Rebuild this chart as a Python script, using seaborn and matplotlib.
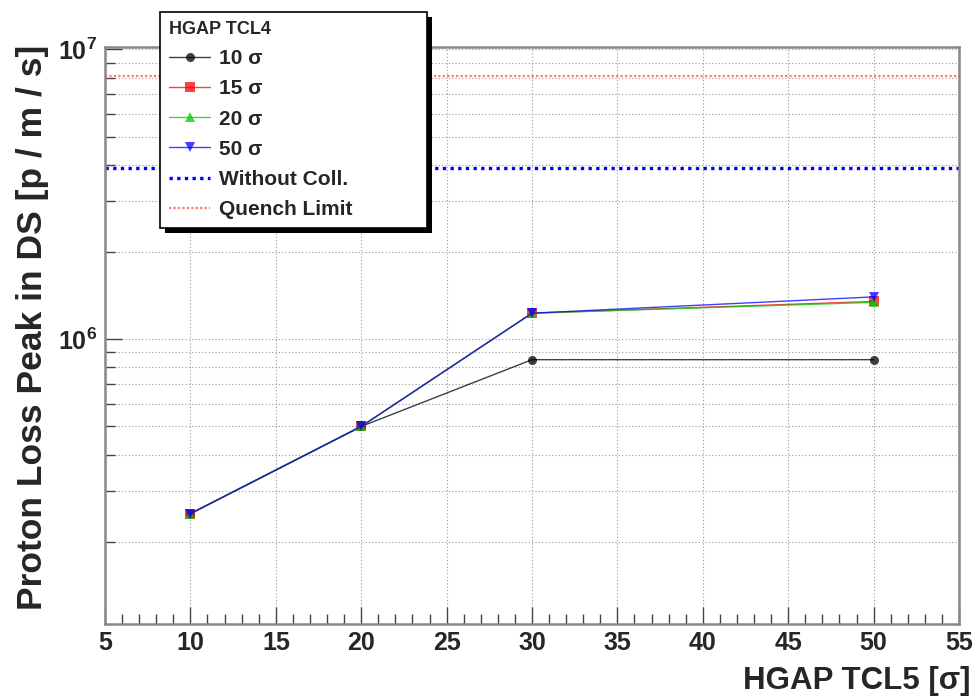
import numpy as np
import pandas as pd
import matplotlib
matplotlib.use("Agg")
import matplotlib.pyplot as plt
import seaborn as sns
from matplotlib.ticker import FixedLocator, FixedFormatter, MultipleLocator, NullFormatter
from matplotlib.lines import Line2D
from matplotlib.patches import Rectangle

# ---- data ----
tcl5 = [10, 20, 30, 50]
loss_10 = [2.5e5, 5.0e5, 8.5e5, 8.5e5]
loss_15 = [2.5e5, 5.0e5, 1.23e6, 1.35e6]
loss_20 = [2.5e5, 5.0e5, 1.23e6, 1.34e6]
loss_50 = [2.5e5, 5.0e5, 1.23e6, 1.40e6]
series_labels = ["10 σ", "15 σ", "20 σ", "50 σ"]
without_coll = 3.9e6
quench_limit = 8.1e6
x_ticks = [5, 10, 15, 20, 25, 30, 35, 40, 45, 50, 55]
y_tick_vals = [1e6, 1e7]
y_tick_labels = [r"$\mathbf{10^{6}}$", r"$\mathbf{10^{7}}$"]

df = pd.DataFrame({
    "tcl5": tcl5 * 4,
    "loss": loss_10 + loss_15 + loss_20 + loss_50,
    "tcl4": sum([[lab] * len(tcl5) for lab in series_labels], []),
})

sns.set_theme(style="white")
plt.rcParams["font.family"] = ["Liberation Sans", "DejaVu Sans"]
plt.rcParams["font.weight"] = "bold"
plt.rcParams["mathtext.fontset"] = "custom"
plt.rcParams["mathtext.bf"] = "Liberation Sans:bold"
plt.rcParams["mathtext.rm"] = "Liberation Sans:bold"

fig = plt.figure(figsize=(9.76, 6.96), dpi=100)
ax = fig.add_axes([0.1076, 0.1034, 0.8750, 0.8291])

colors = ["#000000", "#ff0000", "#00cc00", "#0000ff"]
markers = ["o", "s", "^", "v"]
handles = []
for lab, c, m in zip(series_labels, colors, markers):
    sub = df[df["tcl4"] == lab]
    sns.lineplot(data=sub, x="tcl5", y="loss", ax=ax, color=c, marker=m,
                 markersize=6.5, markeredgewidth=0, linewidth=1.0, alpha=0.75,
                 legend=False)
    handles.append(Line2D([], [], color=c, marker=m, markersize=6.5,
                          markeredgewidth=0, linewidth=1.0, alpha=0.75, label=lab))

ax.axhline(without_coll, color="#0000ff", ls=(0, (1, 1.3)), lw=2.4)
ax.axhline(quench_limit, color="#ff5555", ls=(0, (1, 1)), lw=1.6, alpha=0.8)
handles.append(Line2D([], [], color="#0000ff", ls=(0, (1, 1.3)), lw=2.4, label="Without Coll."))
handles.append(Line2D([], [], color="#ff5555", ls=(0, (1, 1)), lw=1.6, alpha=0.8, label="Quench Limit"))

ax.set_yscale("log")
ax.set_xlim(5, 55)
ax.set_ylim(1.04e5, 1.02e7)

ax.xaxis.set_major_locator(FixedLocator(x_ticks))
ax.xaxis.set_minor_locator(MultipleLocator(1))
ax.yaxis.set_major_locator(FixedLocator(y_tick_vals))
ax.yaxis.set_major_formatter(FixedFormatter(y_tick_labels))
ax.yaxis.set_minor_formatter(NullFormatter())

ax.tick_params(axis="both", which="major", direction="in", length=12, width=1.0,
               color="#444444", labelsize=18, left=True, bottom=True, right=False, top=False)
ax.tick_params(axis="both", which="minor", direction="in", length=7, width=1.0,
               color="#444444", left=True, bottom=True, right=False, top=False)
ax.tick_params(axis="x", which="major", pad=5)
ax.tick_params(axis="y", which="major", pad=6)
for t in ax.get_xticklabels():
    t.set_fontweight("bold")

ax.grid(True, axis="x", which="major", ls=(0, (1, 2)), color="#999999", lw=0.8)
ax.grid(True, axis="y", which="both", ls=(0, (1, 2)), color="#999999", lw=0.8)
for s in ax.spines.values():
    s.set_color("#888888")
    s.set_linewidth(1.8)

ax.set_xlabel("HGAP TCL5 [σ]", fontsize=22.5, fontweight="bold", loc="right")
ax.set_ylabel("Proton Loss Peak in DS [p / m / s]", fontsize=25.5, fontweight="bold", loc="top")
ax.xaxis.set_label_coords(1.013, -0.073)
ax.yaxis.set_label_coords(-0.066, 1.003)

# legend box: fixed width via mode="expand"
lx0, ly_top, lw_px = 160, 12, 267
leg = fig.legend(handles=handles, title="HGAP TCL4", loc="upper left",
                 bbox_to_anchor=(lx0 / 976, 1 - ly_top / 696 - 0.2, lw_px / 976, 0.2),
                 mode="expand", frameon=True,
                 fancybox=False, edgecolor="black", framealpha=1,
                 prop={"size": 15, "weight": "bold"},
                 title_fontproperties={"size": 13, "weight": "bold"},
                 alignment="left", handlelength=2.0, labelspacing=0.54,
                 borderpad=0.42, handletextpad=0.4, borderaxespad=0)
leg.get_frame().set_linewidth(1.2)
leg.set_zorder(10)

fig.canvas.draw()
bb = leg.get_window_extent()
shadow = Rectangle((bb.x0 + 5, bb.y0 - 5), bb.width, bb.height, transform=None,
                   facecolor="black", edgecolor="none", zorder=9)
fig.patches.append(shadow)

fig.savefig("out.png", dpi=100)
